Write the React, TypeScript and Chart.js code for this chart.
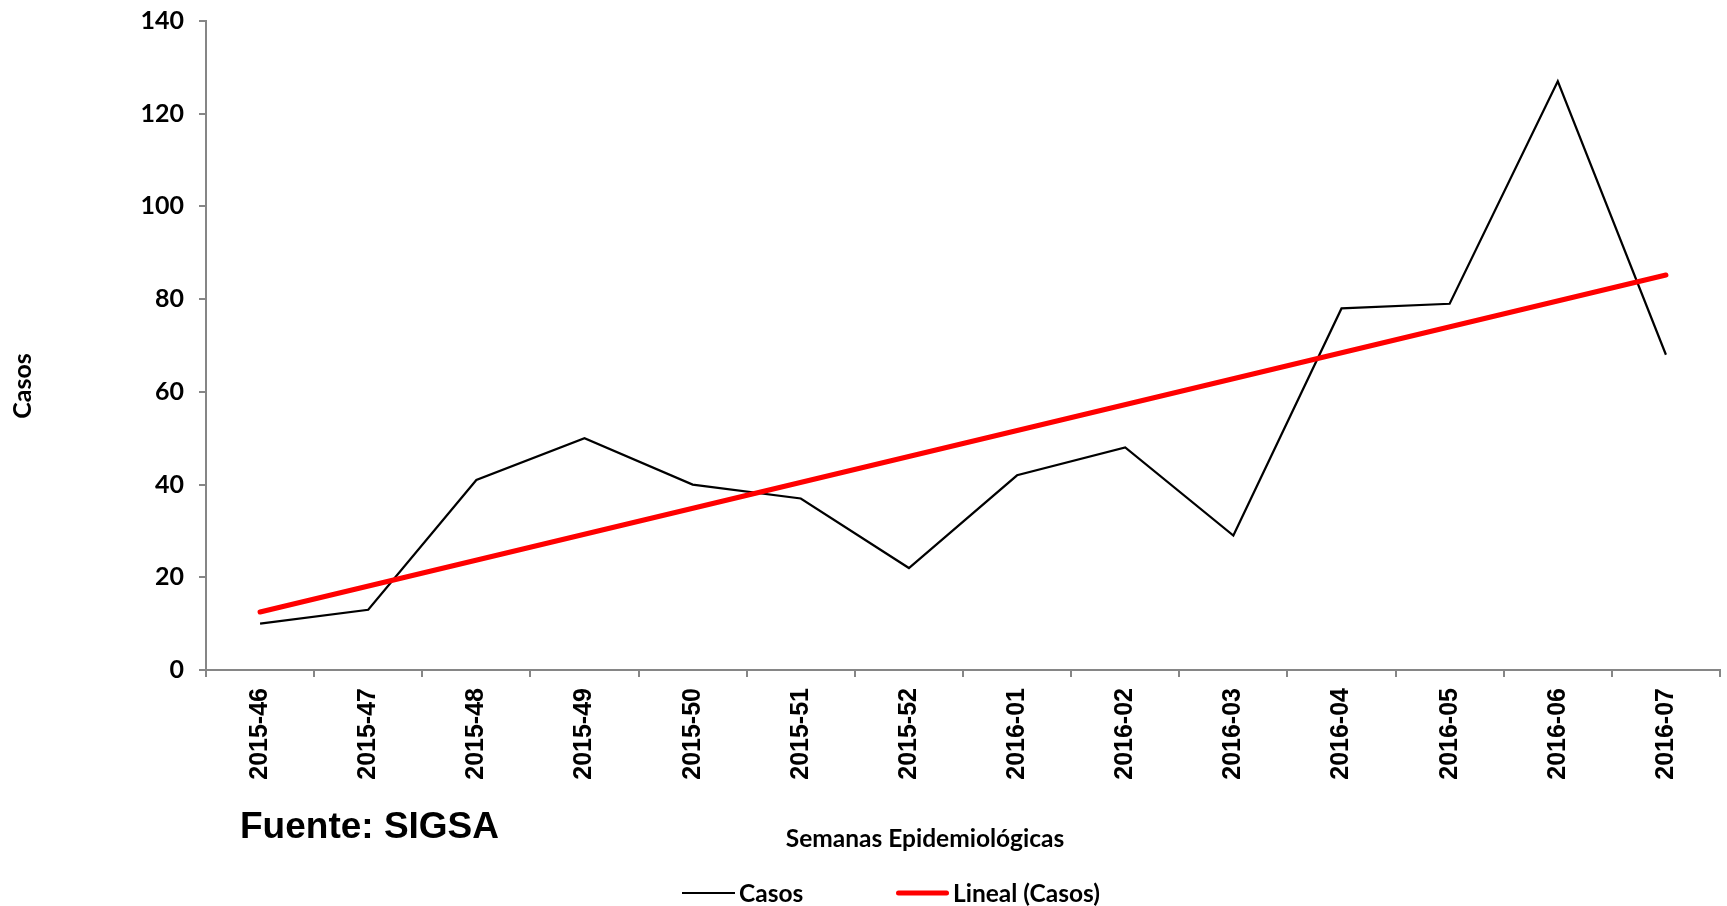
import React, { useEffect, useRef } from "react";
import { Chart, registerables } from "chart.js";

Chart.register(...registerables);

// ---- Data ----
const weeks = [
  "2015-46", "2015-47", "2015-48", "2015-49", "2015-50", "2015-51", "2015-52",
  "2016-01", "2016-02", "2016-03", "2016-04", "2016-05", "2016-06", "2016-07",
];
const casos = [10, 13, 41, 50, 40, 37, 22, 42, 48, 29, 78, 79, 127, 68];
// Linear trend line end points
const trendStart = 12.5;
const trendEnd = 85.2;
const trend = weeks.map((_, i) =>
  i === 0 ? trendStart : i === weeks.length - 1 ? trendEnd : null
);
const yMin = 0;
const yMax = 140;
const yStep = 20;

const seriesLabel = "Casos";
const trendLabel = "Lineal (Casos)";
const yTitle = "Casos";
const xTitle = "Semanas Epidemiológicas";
const sourceText = "Fuente: SIGSA";

// ---- Layout / style ----
const W = 1727;
const H = 906;
const CAL = "Lato, 'Open Sans', sans-serif";
const ARIAL = "'Liberation Sans', Arial, sans-serif";
const AXIS = "#868686";
const legendXs = [682, 896];

const overlayPlugin = {
  id: "overlayText",
  afterDraw(chart: any) {
    const ctx = chart.ctx as CanvasRenderingContext2D;
    ctx.save();
    ctx.fillStyle = "#000";
    ctx.textBaseline = "middle";

    // Y axis title
    ctx.font = `bold 25px ${CAL}`;
    ctx.textAlign = "center";
    ctx.save();
    ctx.translate(23, 386);
    ctx.rotate(-Math.PI / 2);
    ctx.fillText(yTitle, 0, 0);
    ctx.restore();

    // X axis title
    ctx.font = `bold 24.5px ${CAL}`;
    ctx.fillText(xTitle, 925, 839);

    // Source
    ctx.font = `bold 37px ${ARIAL}`;
    ctx.textAlign = "left";
    ctx.fillText(sourceText, 240, 828);

    // Legend
    const ly = 893;
    chart.data.datasets.forEach((ds: any, i: number) => {
      const x0 = legendXs[i];
      const lw = ds.borderWidth;
      const cap = ds.borderCapStyle || "butt";
      const inset = cap === "round" ? lw / 2 : 0;
      ctx.strokeStyle = ds.borderColor;
      ctx.lineWidth = lw;
      ctx.lineCap = cap;
      ctx.beginPath();
      ctx.moveTo(x0 + inset, ly);
      ctx.lineTo(x0 + 53 - inset, ly);
      ctx.stroke();
      ctx.fillStyle = "#000";
      ctx.font = `bold 24.5px ${CAL}`;
      ctx.textAlign = "left";
      ctx.fillText(ds.label, x0 + 57, ly + 1);
    });
    ctx.restore();
  },
};

export default function App() {
  const ref = useRef<HTMLCanvasElement | null>(null);

  useEffect(() => {
    if (!ref.current) return;
    const chart = new Chart(ref.current, {
      type: "line",
      data: {
        labels: weeks,
        datasets: [
          {
            label: seriesLabel,
            data: casos,
            borderColor: "#000000",
            backgroundColor: "#000000",
            borderWidth: 2.2,
            pointRadius: 0,
            tension: 0,
            fill: false,
            order: 2,
          },
          {
            label: trendLabel,
            data: trend,
            borderColor: "#FF0000",
            backgroundColor: "#FF0000",
            borderWidth: 5,
            borderCapStyle: "round",
            pointRadius: 0,
            spanGaps: true,
            tension: 0,
            fill: false,
            order: 1,
          },
        ],
      },
      options: {
        responsive: false,
        animation: false,
        layout: { padding: { left: 0, right: 7, top: 21, bottom: 0 } },
        plugins: {
          legend: { display: false },
          tooltip: { enabled: false },
        },
        scales: {
          x: {
            type: "category",
            offset: true,
            grid: {
              display: true,
              drawOnChartArea: false,
              drawTicks: true,
              tickLength: 7,
              color: AXIS,
              lineWidth: 2,
              offset: true,
            },
            border: { display: true, color: AXIS, width: 2 },
            ticks: {
              autoSkip: false,
              minRotation: 90,
              maxRotation: 90,
              padding: 11,
              color: "#000",
              font: { family: ARIAL, size: 25, weight: "bold" },
            },
            afterFit(scale: any) {
              scale.height = 236;
              scale.paddingTop = 0;
            },
          },
          y: {
            min: yMin,
            max: yMax,
            grid: {
              display: true,
              drawOnChartArea: false,
              drawTicks: true,
              tickLength: 7,
              color: AXIS,
              lineWidth: 2,
            },
            border: { display: true, color: AXIS, width: 2 },
            ticks: {
              stepSize: yStep,
              padding: 15,
              color: "#000",
              font: { family: CAL, size: 25, weight: "bold" },
            },
            afterFit(scale: any) {
              scale.width = 206;
              scale.paddingTop = 0;
              scale.paddingBottom = 0;
            },
          },
        },
      },
      plugins: [overlayPlugin],
    });
    return () => chart.destroy();
  }, []);

  return (
    <div style={{ position: "fixed", left: 0, top: 0, width: W, height: H, background: "#fff" }}>
      <canvas ref={ref} width={W} height={H} style={{ display: "block", width: W, height: H }} />
    </div>
  );
}
